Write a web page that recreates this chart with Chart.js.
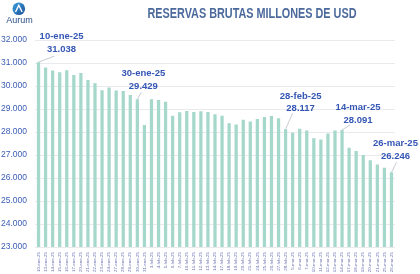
<!DOCTYPE html>
<html>
<head>
<meta charset="utf-8">
<script src="https://cdn.jsdelivr.net/npm/chart.js@4.4.1/dist/chart.umd.min.js"></script>
<style>
html,body{margin:0;padding:0;background:#fff;}
#wrap{width:420px;height:274px;position:relative;}
</style>
</head>
<body>
<div id="wrap"><canvas id="c" width="420" height="274"></canvas></div>
<script>
const dates = [
  "10-ene-25","13-ene-25","14-ene-25","15-ene-25","16-ene-25","17-ene-25","20-ene-25","21-ene-25","22-ene-25","23-ene-25","24-ene-25","27-ene-25","28-ene-25","29-ene-25","30-ene-25","31-ene-25",
  "3-feb-25","4-feb-25","5-feb-25","6-feb-25","7-feb-25","10-feb-25","11-feb-25","12-feb-25","13-feb-25","14-feb-25","17-feb-25","18-feb-25","19-feb-25","20-feb-25","21-feb-25","24-feb-25","25-feb-25","26-feb-25","27-feb-25","28-feb-25",
  "5-mar-25","6-mar-25","7-mar-25","10-mar-25","11-mar-25","12-mar-25","13-mar-25","14-mar-25","17-mar-25","18-mar-25","19-mar-25","20-mar-25","21-mar-25","25-mar-25","26-mar-25"
];
const reservas = [
  31038,30800,30670,30600,30680,30480,30570,30260,30120,29810,29940,29800,29780,29610,29429,28300,
  29420,29390,29320,28710,28860,28910,28870,28900,28870,28770,28710,28380,28330,28530,28460,28570,28650,28700,28600,28117,
  27970,28140,28060,27730,27670,27940,28070,28091,27320,27170,27000,26770,26590,26450,26246
];
const highlighted = ["10-ene-25","30-ene-25","28-feb-25","14-mar-25","26-mar-25"];
const yMin = 23000, yMax = 32000, yStep = 1000;
const title = "RESERVAS BRUTAS MILLONES DE USD";
const brand = "Aurum";

function fmt(v){ return Math.round(v).toString().replace(/\B(?=(\d{3})+(?!\d))/g, "."); }

// label placement offsets (style only), relative to the bar top
const calloutOffsets = {
  "10-ene-25": {dx:23, dy:-12.5, lx:16, ly:-6},
  "30-ene-25": {dx:6,  dy:-12.5, lx:4,  ly:-7},
  "28-feb-25": {dx:15, dy:-20.5, lx:7,  ly:-16},
  "14-mar-25": {dx:16, dy:-10,   lx:8,  ly:-5},
  "26-mar-25": {dx:4,  dy:-16,   lx:5,  ly:-10}
};

const decor = {
  id:'decor',
  afterDraw(chart){
    const ctx = chart.ctx;
    ctx.save();
    // title
    ctx.fillStyle = '#4b6a9b';
    ctx.font = 'bold 14px "Liberation Sans", sans-serif';
    ctx.textAlign = 'center';
    ctx.textBaseline = 'middle';
    ctx.fillText(title, 252, 14, 209);
    // logo icon
    const g = ctx.createLinearGradient(12,2,25,15);
    g.addColorStop(0,'#3fa4e0'); g.addColorStop(1,'#1d4f9a');
    ctx.fillStyle = g;
    ctx.beginPath();
    ctx.arc(18.8, 8.8, 6.3, 0, Math.PI*2);
    ctx.fill();
    ctx.strokeStyle = '#ffffff';
    ctx.lineWidth = 1.4;
    ctx.beginPath();
    ctx.moveTo(15.5,12); ctx.lineTo(18.8,5.3); ctx.lineTo(22.1,12);
    ctx.stroke();
    ctx.fillStyle = '#2b4f86';
    ctx.font = '9px "Liberation Sans", sans-serif';
    ctx.textAlign = 'center';
    ctx.fillText(brand, 19.5, 20.5);
    // callouts
    const meta = chart.getDatasetMeta(0);
    highlighted.forEach(lbl => {
      const i = dates.indexOf(lbl);
      const bar = meta.data[i];
      const o = calloutOffsets[lbl];
      const x = bar.x, y = bar.y;
      ctx.strokeStyle = '#b9bec8';
      ctx.lineWidth = 0.8;
      ctx.beginPath();
      ctx.moveTo(x, y);
      ctx.lineTo(x + o.lx, y + o.ly);
      ctx.stroke();
      ctx.fillStyle = '#3456b5';
      ctx.font = 'bold 9.5px "Liberation Sans", sans-serif';
      ctx.textAlign = 'center';
      ctx.textBaseline = 'middle';
      ctx.fillText(lbl, x + o.dx, y + o.dy - 12.8);
      ctx.fillText(fmt(reservas[i]), x + o.dx, y + o.dy);
    });
    ctx.restore();
  }
};

new Chart(document.getElementById('c'), {
  type:'bar',
  data:{
    labels:dates,
    datasets:[{
      data:reservas,
      backgroundColor:'#a5d7ca',
      borderWidth:0,
      barPercentage:0.46,
      categoryPercentage:1.0
    }]
  },
  options:{
    responsive:false,
    animation:false,
    layout:{padding:{top:40,left:1,right:25,bottom:1}},
    plugins:{legend:{display:false},title:{display:false},tooltip:{enabled:false}},
    scales:{
      x:{
        grid:{display:false,drawTicks:false},
        border:{display:false},
        afterFit:(s)=>{ s.height = 26; },
        ticks:{
          autoSkip:false,
          maxRotation:90,minRotation:90,
          color:'#6b72b0',
          font:{size:4.4,family:'"Liberation Sans", sans-serif'},
          padding:5
        }
      },
      y:{
        min:yMin,max:yMax,
        grid:{color:'#e3e5e8',lineWidth:0.8,drawTicks:false},
        border:{display:false},
        afterFit:(s)=>{ s.width = 34; },
        ticks:{
          stepSize:yStep,
          color:'#3a5cb5',
          padding:8,
          font:{size:8.5,family:'"Liberation Sans", sans-serif'},
          callback:(v)=>fmt(v)
        }
      }
    }
  },
  plugins:[decor]
});
</script>
</body>
</html>
